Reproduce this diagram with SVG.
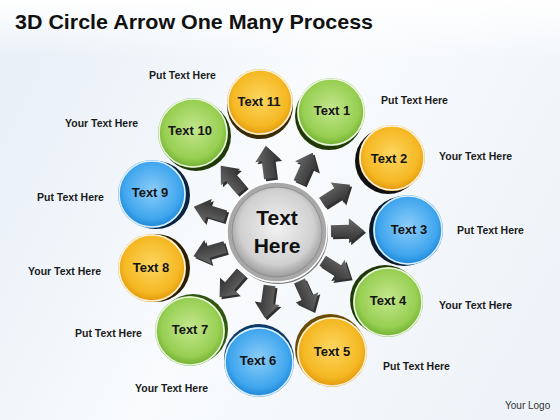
<svg xmlns="http://www.w3.org/2000/svg" xmlns:xlink="http://www.w3.org/1999/xlink" width="560" height="420" viewBox="0 0 560 420">
<defs>
<style>
.lbl{font-family:"Liberation Sans",Arial,sans-serif;font-weight:bold;font-size:10.5px;fill:#1a1a1a}
.ct{font-family:"Liberation Sans",Arial,sans-serif;font-weight:bold;font-size:13px;fill:#141414;text-anchor:middle}
.big{font-family:"Liberation Sans",Arial,sans-serif;font-weight:bold;font-size:21px;fill:#111;text-anchor:middle}
.rim{fill:none;stroke:#ffffff;stroke-width:1.6;stroke-opacity:0.85}
</style>
<linearGradient id="bg" x1="0" y1="0.3" x2="1" y2="0.7">
<stop offset="0" stop-color="#e9f0f8"/>
<stop offset="0.45" stop-color="#f9fbfd"/>
<stop offset="1" stop-color="#eef3f9"/>
</linearGradient>
<linearGradient id="band" x1="0" y1="0" x2="0" y2="1">
<stop offset="0" stop-color="#ffffff"/>
<stop offset="1" stop-color="#ffffff" stop-opacity="0"/>
</linearGradient>
<radialGradient id="gy" cx="0.5" cy="0.45" r="0.55">
<stop offset="0" stop-color="#fcd660"/>
<stop offset="0.75" stop-color="#f5b823"/>
<stop offset="1" stop-color="#e0960a"/>
</radialGradient>
<radialGradient id="gg" cx="0.5" cy="0.45" r="0.55">
<stop offset="0" stop-color="#c4e78e"/>
<stop offset="0.75" stop-color="#97cf52"/>
<stop offset="1" stop-color="#6fae2f"/>
</radialGradient>
<radialGradient id="gb" cx="0.5" cy="0.45" r="0.55">
<stop offset="0" stop-color="#8ccdf8"/>
<stop offset="0.75" stop-color="#40a6ee"/>
<stop offset="1" stop-color="#1a84d6"/>
</radialGradient>
<radialGradient id="gc" cx="0.5" cy="0.45" r="0.55">
<stop offset="0" stop-color="#f2f2f2"/>
<stop offset="0.75" stop-color="#d0d0d0"/>
<stop offset="1" stop-color="#9c9c9c"/>
</radialGradient>
<linearGradient id="ga" x1="0" y1="0" x2="0" y2="1">
<stop offset="0" stop-color="#6a6a6a"/>
<stop offset="1" stop-color="#2f2f2f"/>
</linearGradient>
<path id="arrow" d="M0,-6 L18,-6 L18,-12.5 L33,0 L18,12.5 L18,6 L0,6 Z"/>
</defs>

<rect x="0" y="0" width="560" height="420" fill="url(#bg)"/>
<rect x="0" y="0" width="560" height="60" fill="url(#band)"/>

<g id="title">
<text x="15" y="29" font-family="Liberation Sans,Arial,sans-serif" font-size="21" font-weight="bold" fill="#111" textLength="358" lengthAdjust="spacingAndGlyphs">3D Circle Arrow One Many Process</text>
</g>

<g id="connectors">
<g fill="#1c1c1c" opacity="0.9">
<use xlink:href="#arrow" transform="translate(279,234) rotate(-97.4) translate(54,0)"/>
<use xlink:href="#arrow" transform="translate(279,234) rotate(-65.8) translate(54,0)"/>
<use xlink:href="#arrow" transform="translate(279,234) rotate(-32.8) translate(54,0)"/>
<use xlink:href="#arrow" transform="translate(279,234) rotate(-0.9) translate(54,0)"/>
<use xlink:href="#arrow" transform="translate(279,234) rotate(32.2) translate(54,0)"/>
<use xlink:href="#arrow" transform="translate(279,234) rotate(65.4) translate(54,0)"/>
<use xlink:href="#arrow" transform="translate(279,234) rotate(97.9) translate(54,0)"/>
<use xlink:href="#arrow" transform="translate(279,234) rotate(131.3) translate(54,0)"/>
<use xlink:href="#arrow" transform="translate(279,234) rotate(163.9) translate(54,0)"/>
<use xlink:href="#arrow" transform="translate(279,234) rotate(196.9) translate(54,0)"/>
<use xlink:href="#arrow" transform="translate(279,234) rotate(-130.3) translate(54,0)"/>
</g>
<g fill="url(#ga)">
<use xlink:href="#arrow" transform="translate(277,232) rotate(-97.4) translate(54,0)"/>
<use xlink:href="#arrow" transform="translate(277,232) rotate(-65.8) translate(54,0)"/>
<use xlink:href="#arrow" transform="translate(277,232) rotate(-32.8) translate(54,0)"/>
<use xlink:href="#arrow" transform="translate(277,232) rotate(-0.9) translate(54,0)"/>
<use xlink:href="#arrow" transform="translate(277,232) rotate(32.2) translate(54,0)"/>
<use xlink:href="#arrow" transform="translate(277,232) rotate(65.4) translate(54,0)"/>
<use xlink:href="#arrow" transform="translate(277,232) rotate(97.9) translate(54,0)"/>
<use xlink:href="#arrow" transform="translate(277,232) rotate(131.3) translate(54,0)"/>
<use xlink:href="#arrow" transform="translate(277,232) rotate(163.9) translate(54,0)"/>
<use xlink:href="#arrow" transform="translate(277,232) rotate(196.9) translate(54,0)"/>
<use xlink:href="#arrow" transform="translate(277,232) rotate(-130.3) translate(54,0)"/>
</g>
</g>

<g id="center">
<circle cx="278" cy="234" r="50" fill="#7a7a7a"/>
<circle cx="277" cy="232" r="50" fill="#a8a8a8" stroke="#ffffff" stroke-width="1.5"/>
<circle cx="277" cy="232" r="45" fill="url(#gc)" stroke="#8e8e8e" stroke-width="1"/>
<text class="big" x="277" y="225">Text</text>
<text class="big" x="277" y="253">Here</text>
</g>

<g id="n11">
<circle cx="260" cy="106" r="33" fill="#3a2a05"/>
<circle cx="260" cy="102" r="33" fill="url(#gy)"/>
<circle class="rim" cx="260" cy="102" r="32"/>
<text class="ct" x="259" y="106">Text 11</text>
</g>
<g id="n1">
<circle cx="329" cy="116" r="34" fill="#1f3a08"/>
<circle cx="331" cy="112" r="34" fill="url(#gg)"/>
<circle class="rim" cx="331" cy="112" r="33"/>
<text class="ct" x="332" y="115">Text 1</text>
</g>
<g id="n2">
<circle cx="388" cy="161" r="33" fill="#111"/>
<circle cx="392" cy="158" r="33" fill="url(#gy)"/>
<circle class="rim" cx="392" cy="158" r="32"/>
<text class="ct" x="389" y="163">Text 2</text>
</g>
<g id="n3">
<circle cx="404" cy="231" r="35" fill="#0c1a2a"/>
<circle cx="408" cy="230" r="35" fill="url(#gb)"/>
<circle class="rim" cx="408" cy="230" r="34"/>
<text class="ct" x="409" y="234">Text 3</text>
</g>
<g id="n4">
<circle cx="385" cy="300" r="35" fill="#1f3a08"/>
<circle cx="388" cy="302" r="35" fill="url(#gg)"/>
<circle class="rim" cx="388" cy="302" r="34"/>
<text class="ct" x="388" y="305">Text 4</text>
</g>
<g id="n5">
<circle cx="330" cy="349" r="35" fill="#6a4a0a"/>
<circle cx="332" cy="352" r="35" fill="url(#gy)"/>
<circle class="rim" cx="332" cy="352" r="34"/>
<text class="ct" x="332" y="356">Text 5</text>
</g>
<g id="n6">
<circle cx="259" cy="359" r="35" fill="#0e3a66"/>
<circle cx="259" cy="362" r="35" fill="url(#gb)"/>
<circle class="rim" cx="259" cy="362" r="34"/>
<text class="ct" x="258" y="365">Text 6</text>
</g>
<g id="n7">
<circle cx="193" cy="329" r="35" fill="#2f5510"/>
<circle cx="190" cy="331" r="35" fill="url(#gg)"/>
<circle class="rim" cx="190" cy="331" r="34"/>
<text class="ct" x="190" y="334">Text 7</text>
</g>
<g id="n8">
<circle cx="156" cy="268" r="34" fill="#2a1e04"/>
<circle cx="152" cy="268" r="34" fill="url(#gy)"/>
<circle class="rim" cx="152" cy="268" r="33"/>
<text class="ct" x="151" y="272">Text 8</text>
</g>
<g id="n9">
<circle cx="156" cy="195" r="34" fill="#0a2440"/>
<circle cx="152" cy="194" r="34" fill="url(#gb)"/>
<circle class="rim" cx="152" cy="194" r="33"/>
<text class="ct" x="150" y="197">Text 9</text>
</g>
<g id="n10">
<circle cx="196" cy="136" r="35" fill="#1f3a08"/>
<circle cx="193" cy="133" r="35" fill="url(#gg)"/>
<circle class="rim" cx="193" cy="133" r="34"/>
<text class="ct" x="190" y="135">Text 10</text>
</g>

<g id="labels">
<text class="lbl" x="149" y="79">Put Text Here</text>
<text class="lbl" x="65" y="127">Your Text Here</text>
<text class="lbl" x="37" y="201">Put Text Here</text>
<text class="lbl" x="28" y="275">Your Text Here</text>
<text class="lbl" x="75" y="337">Put Text Here</text>
<text class="lbl" x="135" y="392">Your Text Here</text>
<text class="lbl" x="383" y="370">Put Text Here</text>
<text class="lbl" x="439" y="309">Your Text Here</text>
<text class="lbl" x="457" y="234">Put Text Here</text>
<text class="lbl" x="439" y="160">Your Text Here</text>
<text class="lbl" x="381" y="104">Put Text Here</text>
</g>

<text x="505" y="409" font-family="Liberation Sans,Arial,sans-serif" font-size="10" fill="#333">Your Logo</text>
</svg>
